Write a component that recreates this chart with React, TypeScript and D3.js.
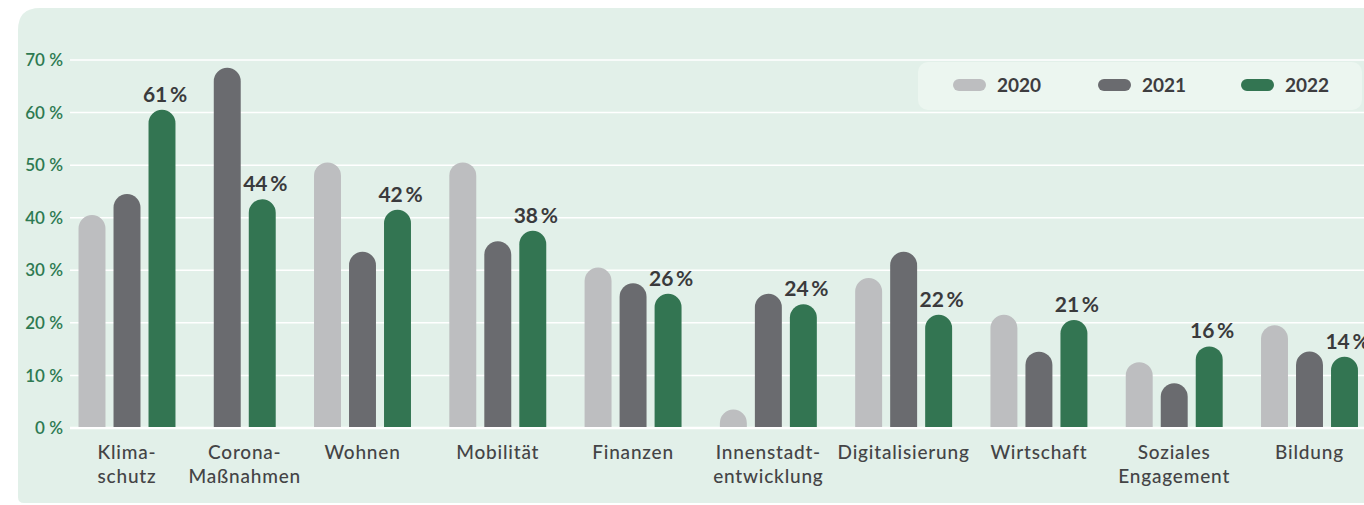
import React from "react";
import * as d3 from "d3";

const categories: string[][] = [
  ["Klima-", "schutz"],
  ["Corona-", "Maßnahmen"],
  ["Wohnen"],
  ["Mobilität"],
  ["Finanzen"],
  ["Innenstadt-", "entwicklung"],
  ["Digitalisierung"],
  ["Wirtschaft"],
  ["Soziales", "Engagement"],
  ["Bildung"],
];
const series = ["2020", "2021", "2022"];
const values2020: (number | null)[] = [41, null, 51, 51, 31, 4, 29, 22, 13, 20];
const values2021: (number | null)[] = [45, 69, 34, 36, 28, 26, 34, 15, 9, 15];
const values2022: (number | null)[] = [61, 44, 42, 38, 26, 24, 22, 21, 16, 14];
const yTicks = [0, 10, 20, 30, 40, 50, 60, 70];

const colors = ["#bdbec0", "#6a6b6f", "#337552"];
const allValues = [values2020, values2021, values2022];

const W = 1364;
const H = 505;
const FONT = "Lato, 'Open Sans', sans-serif";

export default function App() {
  const y = d3.scaleLinear().domain([0, 70]).range([428, 60]);
  // group centers (first groups are set slightly tighter in the original)
  const x = d3.scaleLinear().domain([0, 2, 9]).range([127, 362.5, 1309.5]);
  const step = 35;

  const panelPath = (() => {
    const p = d3.path();
    const x0 = 18, y0 = 8, x1 = W + 20, y1 = 503, rTL = 22, rBL = 6;
    p.moveTo(x0 + rTL, y0);
    p.lineTo(x1, y0);
    p.lineTo(x1, y1);
    p.lineTo(x0 + rBL, y1);
    p.quadraticCurveTo(x0, y1, x0, y1 - rBL);
    p.lineTo(x0, y0 + rTL);
    p.quadraticCurveTo(x0, y0, x0 + rTL, y0);
    p.closePath();
    return p.toString();
  })();

  const barPath = (cx: number, bw: number, top: number, bottom: number) => {
    const r = bw / 2;
    const p = d3.path();
    const l = cx - r;
    const rr = cx + r;
    const t = Math.min(top, bottom - r);
    p.moveTo(l, bottom);
    p.lineTo(l, t + r);
    p.arc(cx, t + r, r, Math.PI, 0);
    p.lineTo(rr, bottom);
    p.closePath();
    return p.toString();
  };

  const legendX = [953, 1098, 1241];

  return (
    <svg width={W} height={H} style={{ position: "absolute", left: 0, top: 0, display: "block" }}>
      <rect x={0} y={0} width={W} height={H} fill="#ffffff" />
      <path d={panelPath} fill="#e2f0e9" />
      {/* gridlines */}
      {yTicks.map((t) => (
        <line
          key={t}
          x1={70}
          x2={W}
          y1={y(t)}
          y2={y(t)}
          stroke="#ffffff"
          strokeWidth={t === 0 ? 2.5 : 1.5}
        />
      ))}
      {/* y labels */}
      {yTicks.map((t) => (
        <text
          key={"l" + t}
          x={63}
          y={y(t)}
          dy="0.36em"
          textAnchor="end"
          fontFamily={FONT}
          fontSize={17}
          fontWeight={600}
          fill="#2e7a52"
        >
          {t + " %"}
        </text>
      ))}
      {/* legend box */}
      <rect x={918} y={62} width={444} height={48} rx={10} fill="#ecf6f0" />
      {series.map((s, i) => (
        <g key={s}>
          <rect x={legendX[i]} y={79} width={33} height={12} rx={6} fill={colors[i]} />
          <text
            x={legendX[i] + 44}
            y={85}
            dy="0.36em"
            fontFamily={FONT}
            fontSize={19}
            fontWeight={700}
            fill="#3d3d3f"
          >
            {s}
          </text>
        </g>
      ))}
      {/* bars */}
      {categories.map((cat, ci) => {
        const present = series.map((s, si) => si).filter((si) => allValues[si][ci] != null);
        const n = present.length;
        const inner = d3
          .scaleBand<number>()
          .domain(present)
          .range([-(n * step) / 2, (n * step) / 2])
          .paddingInner(0.23)
          .paddingOuter(0.115);
        const cx0 = x(ci);
        return (
          <g key={ci}>
            {present.map((si) => {
              const v = allValues[si][ci] as number;
              const bx = cx0 + (inner(si) as number) + inner.bandwidth() / 2;
              const top = y(v) + 2.5;
              return (
                <g key={si}>
                  <path d={barPath(bx, inner.bandwidth(), top, 427)} fill={colors[si]} />
                  {si === 2 && (
                    <text
                      x={bx + 3}
                      y={top - 8}
                      textAnchor="middle"
                      fontFamily={FONT}
                      fontSize={21}
                      fontWeight={700}
                      fill="#3a3a3c"
                    >
                      {v + "\u2009%"}
                    </text>
                  )}
                </g>
              );
            })}
            {cat.map((line, li) => (
              <text
                key={li}
                x={cx0}
                y={459 + li * 24}
                textAnchor="middle"
                fontFamily={FONT}
                fontSize={19}
                fontWeight={500}
                letterSpacing={0.8}
                fill="#444446"
              >
                {line}
              </text>
            ))}
          </g>
        );
      })}
    </svg>
  );
}
